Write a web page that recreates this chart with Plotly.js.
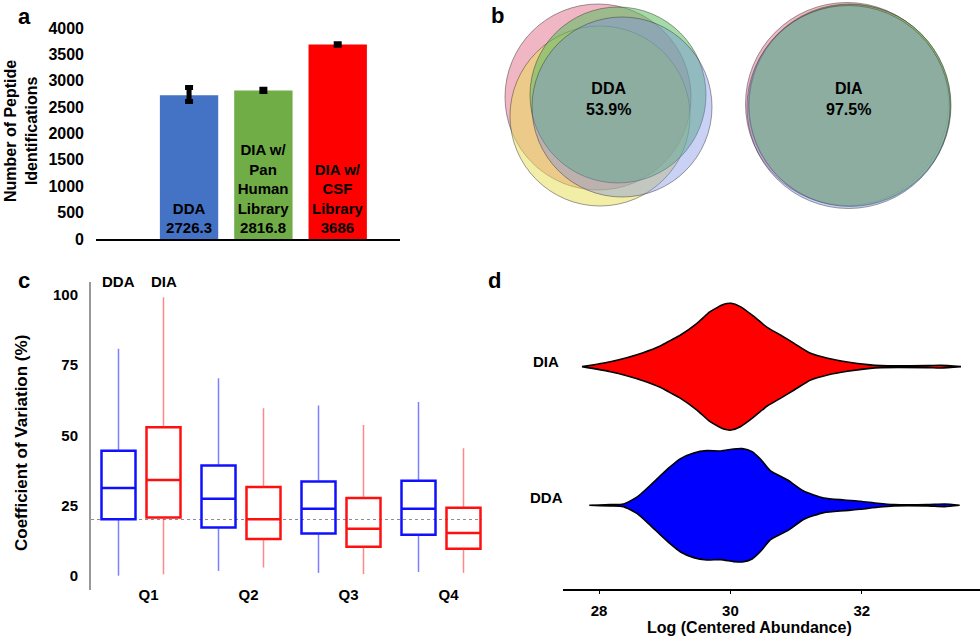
<!DOCTYPE html>
<html>
<head>
<meta charset="utf-8">
<script src="https://cdn.plot.ly/plotly-3.0.1.min.js"></script>
<style>html,body{margin:0;padding:0;background:#fff;}#chart{width:980px;height:637px;}</style>
</head>
<body>
<div id="chart"></div>
<script>
// ---------- Panel a: peptide identifications ----------
const barCats = ['DDA', 'DIA w/ Pan Human Library', 'DIA w/ CSF Library'];
const barLabels = ['DDA', 'DIA w/<br>Pan<br>Human<br>Library', 'DIA w/<br>CSF<br>Library'];
const barValues = [2726.3, 2816.8, 3686];
const barErrPlus = [146, 20, 15];
const barErrMinus = [120, 20, 15];
const barColors = ['#4472C4', '#70AD47', '#FF0000'];

// ---------- Panel b: Venn overlap of replicates ----------
const vennReps = ['Rep 1', 'Rep 2', 'Rep 3', 'Rep 4'];
const vennColors = ['rgba(225,110,135,0.5)', 'rgba(232,222,80,0.5)', 'rgba(90,190,95,0.55)', 'rgba(120,140,230,0.4)'];
const ddaVennCx = [598, 600, 618, 622];
const ddaVennCy = [97, 116, 95, 107];
const ddaVennR = [93, 90, 88, 90];
const diaVennCx = [847, 849.5, 850, 848.5];
const diaVennCy = [104, 105, 105.5, 107];
const diaVennR = [101.5, 101, 101, 101.5];
const vennLabels = ['DDA<br>53.9%', 'DIA<br>97.5%'];

// ---------- Panel c: CV by quartile ----------
const quartiles = ['Q1', 'Q2', 'Q3', 'Q4'];
const ddaLow = [0, 1.7, 1.0, 1.3];
const ddaQ1 = [20.1, 17.2, 15.0, 14.6];
const ddaMed = [31.2, 27.4, 23.8, 23.8];
const ddaQ3 = [44.5, 39.2, 33.5, 33.8];
const ddaHigh = [80.8, 70.3, 60.6, 61.9];
const diaLow = [0.5, 2.9, 0.6, 1.0];
const diaQ1 = [20.7, 13.1, 10.3, 9.6];
const diaMed = [34.1, 20.1, 16.7, 15.2];
const diaQ3 = [52.9, 31.6, 27.7, 24.2];
const diaHigh = [99.2, 59.6, 53.7, 45.4];
const cvThreshold = 20;

// ---------- Panel d: abundance distributions (density profile) ----------
const diaAbund = [27.74, 28.17, 28.42, 28.67, 28.93, 29.08, 29.24, 29.49, 29.69, 29.90, 30.01, 30.15, 30.36, 30.56, 30.76, 30.97, 31.22, 31.48, 31.78, 32.09, 32.29, 33.0, 33.2, 33.51];
const diaDens  = [0, 15, 27, 42, 62, 78, 95, 130, 165, 187, 190, 180, 150, 118, 95, 70, 40, 25, 14, 6, 3, 3, 4, 0];
const ddaAbund = [27.85, 28.17, 28.37, 28.58, 28.78, 28.93, 29.08, 29.24, 29.44, 29.64, 29.85, 30.05, 30.18, 30.33, 30.46, 30.61, 30.87, 31.12, 31.42, 31.73, 31.98, 32.24, 32.49, 33.0, 33.26, 33.49];
const ddaDens  = [0, 2, 4, 25, 60, 88, 115, 140, 157, 164, 163, 169, 170, 161, 138, 103, 76, 42, 22, 16, 12, 6, 2, 2, 4, 0];
const violinNames = ['DDA', 'DIA'];

// ---------- styling ----------
const FONT = 'Liberation Sans, Arial, Helvetica, sans-serif';
const bold = (size, color) => ({family: FONT, size: size, color: color || '#000', weight: 700});

const traces = [];

// Panel a bars
traces.push({
  type: 'bar', x: barCats, y: barValues, xaxis: 'x', yaxis: 'y',
  marker: {color: barColors}, width: 0.785,
  text: barLabels.map((l, i) => l + '<br>' + String(barValues[i])),
  textposition: 'inside', insidetextanchor: 'start', textangle: 0, constraintext: 'none',
  textfont: bold(15, '#000'), hoverinfo: 'skip',
  error_y: {type: 'data', symmetric: false, array: barErrPlus, arrayminus: barErrMinus,
            color: '#000', thickness: 5, width: 4}
});

// Panel c: whiskers + boxes
const off = 0.225;
function whisk(low, q1, q3, high, shift) {
  const xs = [], ys = [];
  for (let i = 0; i < quartiles.length; i++) {
    const p = i + 1 + shift;
    xs.push(p, p, null, p, p, null);
    ys.push(q3[i], high[i], null, low[i], q1[i], null);
  }
  return {xs, ys};
}
const wd = whisk(ddaLow, ddaQ1, ddaQ3, ddaHigh, -off);
const wi = whisk(diaLow, diaQ1, diaQ3, diaHigh, off);
traces.push({type: 'scatter', mode: 'lines', x: wd.xs, y: wd.ys, xaxis: 'x2', yaxis: 'y2',
  line: {color: 'rgba(40,40,255,0.6)', width: 1.5}, hoverinfo: 'skip'});
traces.push({type: 'scatter', mode: 'lines', x: wi.xs, y: wi.ys, xaxis: 'x2', yaxis: 'y2',
  line: {color: 'rgba(255,40,40,0.55)', width: 1.5}, hoverinfo: 'skip'});
const pos = quartiles.map((q, i) => i + 1);
traces.push({type: 'box', name: 'DDA', xaxis: 'x2', yaxis: 'y2',
  x: pos.map(p => p - off), q1: ddaQ1, median: ddaMed, q3: ddaQ3, lowerfence: ddaQ1, upperfence: ddaQ3,
  width: 0.34, whiskerwidth: 0, line: {color: '#1010ff', width: 2.5}, fillcolor: 'rgba(0,0,0,0)', hoverinfo: 'skip'});
traces.push({type: 'box', name: 'DIA', xaxis: 'x2', yaxis: 'y2',
  x: pos.map(p => p + off), q1: diaQ1, median: diaMed, q3: diaQ3, lowerfence: diaQ1, upperfence: diaQ3,
  width: 0.34, whiskerwidth: 0, line: {color: '#ff1010', width: 2.5}, fillcolor: 'rgba(0,0,0,0)', hoverinfo: 'skip'});

// Panel d: violins from density profiles
const vScale = 0.457 / 190;
function violin(xs, ds, center, color) {
  const px = xs.concat(xs.slice().reverse());
  const py = ds.map(d => center + d * vScale).concat(ds.slice().reverse().map(d => center - d * vScale));
  px.push(px[0]); py.push(py[0]);
  return {type: 'scatter', mode: 'lines', x: px, y: py, xaxis: 'x4', yaxis: 'y4',
    fill: 'toself', fillcolor: color, line: {color: '#000', width: 1.6, shape: 'spline', smoothing: 0.6},
    hoverinfo: 'skip'};
}
traces.push(violin(diaAbund, diaDens, 2, '#ff0000'));
traces.push(violin(ddaAbund, ddaDens, 1, '#0000ff'));

// shapes
const shapes = [];
function addVenn(cx, cy, r) {
  for (let i = 0; i < vennReps.length; i++) {
    shapes.push({type: 'circle', xref: 'x3', yref: 'y3',
      x0: cx[i] - r[i], x1: cx[i] + r[i], y0: cy[i] - r[i], y1: cy[i] + r[i],
      fillcolor: vennColors[i], line: {color: 'rgba(60,60,60,0.5)', width: 1}, layer: 'above'});
  }
}
addVenn(ddaVennCx, ddaVennCy, ddaVennR);
addVenn(diaVennCx, diaVennCy, diaVennR);
shapes.push({type: 'line', xref: 'x2 domain', yref: 'y2', x0: 0, x1: 1, y0: cvThreshold, y1: cvThreshold,
  line: {color: 'rgba(90,90,110,0.7)', width: 1, dash: 'dot'}, layer: 'below'});

const annotations = [
  // panel letters
  {text: 'a', x: 24/980, y: 1 - 16/637, font: bold(22)},
  {text: 'b', x: 497/980, y: 1 - 15/637, font: bold(22)},
  {text: 'c', x: 24/980, y: 1 - 280/637, font: bold(22)},
  {text: 'd', x: 495/980, y: 1 - 280/637, font: bold(22)},
  // axis titles
  {text: 'Number of Peptide<br>Identifications', x: 21/980, y: 1 - 131/637, textangle: -90, font: bold(16)},
  {text: 'Coefficient of Variation (%)', x: 21/980, y: 1 - 443/637, textangle: -90, font: bold(17)},
  {text: 'Log (Centered Abundance)', x: 749/980, y: 1 - 627/637, font: bold(16)},
  // venn labels
  {text: vennLabels[0], xref: 'x3', yref: 'y3', x: 608, y: 99, font: bold(16)},
  {text: vennLabels[1], xref: 'x3', yref: 'y3', x: 848, y: 99, font: bold(16)},
  // box group labels
  {text: 'DDA', xref: 'x2', x: 1 - off, y: 1 - 281/637, font: bold(15)},
  {text: 'DIA', xref: 'x2', x: 1 + off, y: 1 - 281/637, font: bold(15)},
  // violin labels
  {text: violinNames[1], x: 546/980, y: 1 - 362/637, font: bold(15)},
  {text: violinNames[0], x: 546/980, y: 1 - 497/637, font: bold(15)}
].map(a => Object.assign({xref: 'paper', yref: 'paper', showarrow: false, xanchor: 'center', yanchor: 'middle'}, a));

const layout = {
  width: 980, height: 637, margin: {l: 0, r: 0, t: 0, b: 0},
  paper_bgcolor: '#fff', plot_bgcolor: 'rgba(0,0,0,0)', showlegend: false,
  font: {family: FONT},
  xaxis: {domain: [96/980, 400/980], anchor: 'y', type: 'category', range: [-1.252, 2.838],
    showline: true, linecolor: '#000', linewidth: 2, showticklabels: false, showgrid: false, zeroline: false, ticks: ''},
  yaxis: {domain: [1 - 239/637, 1 - 28/637], anchor: 'x', range: [0, 4000], dtick: 500,
    showline: false, showgrid: false, zeroline: false, ticks: '', tickfont: bold(16), ticklabelstandoff: 11},
  xaxis2: {domain: [91/980, 482/980], anchor: 'free', position: 1 - 584/637, range: [0.5, 4.41],
    tickvals: pos.map(p => p + 0.075), ticktext: quartiles, ticks: '', showline: false, showgrid: false,
    zeroline: false, tickfont: bold(15)},
  yaxis2: {domain: [1 - 590/637, 1 - 281.7/637], anchor: 'x2', range: [-5.1, 104.7],
    tickvals: [0, 25, 50, 75, 100], showline: true, linecolor: '#999', linewidth: 2, ticks: '',
    showgrid: false, zeroline: false, tickfont: bold(15), ticklabelstandoff: 8},
  xaxis3: {domain: [490/980, 1], anchor: 'y3', range: [490, 980], visible: false},
  yaxis3: {domain: [1 - 260/637, 1], anchor: 'x3', range: [260, 0], visible: false},
  xaxis4: {domain: [563/980, 1], anchor: 'y4', range: [27.45, 33.8], tickvals: [28, 30, 32],
    ticks: 'outside', ticklen: 3, tickcolor: '#000', showline: true, linecolor: '#000', linewidth: 2,
    showgrid: false, zeroline: false, tickfont: bold(15), ticklabelstandoff: 4},
  yaxis4: {domain: [1 - 589.3/637, 1 - 290/637], anchor: 'x4', range: [0.394, 2.553], visible: false},
  shapes: shapes, annotations: annotations
};

Plotly.newPlot('chart', traces, layout, {displayModeBar: false, staticPlot: true});
</script>
</body>
</html>
